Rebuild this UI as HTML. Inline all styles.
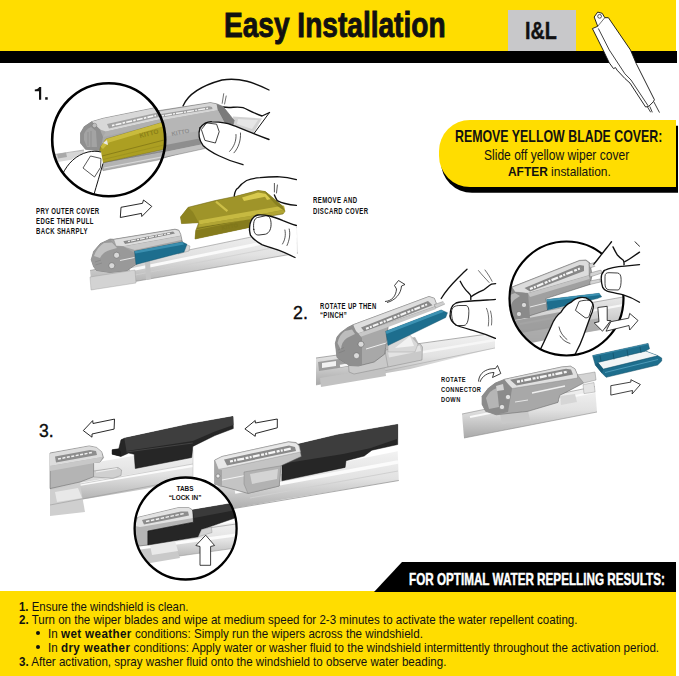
<!DOCTYPE html>
<html><head><meta charset="utf-8">
<style>
*{margin:0;padding:0;box-sizing:border-box}
html,body{width:679px;height:676px;overflow:hidden;background:#fff}
body{position:relative;font-family:"Liberation Sans",sans-serif;color:#111}
.a{position:absolute;white-space:nowrap;transform-origin:0 0;line-height:1}
.b{font-weight:bold}
#hdr{position:absolute;left:0;top:0;width:676px;height:51px;background:#FFDD00}
#hbar{position:absolute;left:0;top:51px;width:677px;height:12px;background:#000}
#il{position:absolute;left:508px;top:10px;width:68px;height:41px;background:#c8c8ca}
#call{position:absolute;left:439px;top:120px;width:237px;height:67px;background:#FFDD00;border-radius:31px 0 0 31px;box-shadow:2px 5.8px 0 #000}
#band{position:absolute;left:0;top:591px;width:676px;height:85px;background:#FFDD00}
svg{position:absolute;left:0;top:0}
</style></head><body>
<div id="hdr"></div>
<div id="hbar"></div>
<div id="il"></div>
<div id="call"></div>
<div id="band"></div>
<svg width="679" height="676" viewBox="0 0 679 676">
<!-- bg -->
<polygon points="402,562 676,562 676,592 374,592" fill="#000"/>

<!-- arm -->
<g stroke="#111" stroke-width="0.9" stroke-linejoin="round" fill="#fff">
  <path d="M592.4,28.6 L597.7,26.3 L594.2,17 L597.7,12.1 L602.2,13.3 L604.8,17.7 L608.4,17.7 L630.5,50 L636.2,63.5 L654.4,99.7 L653.3,101.8 L648.7,106.4 L645.6,107 L630,83.1 L624.9,78.5 L617.1,70.2 L615.5,67.6 L613.5,68.6 L609.3,62.9 L603.1,50 Z"/>
  <path d="M598.3,28.4 L609.3,50 L624.9,73.8 L631,80 L648.2,105.9" fill="none" stroke-width="0.8"/>
  <path d="M647.5,107 L650.7,112.3 M649.8,106.5 L652.3,112.3 M653.8,101.8 L659.5,112.6" fill="none" stroke-width="0.8"/>
  <circle cx="599.6" cy="16.3" r="1.9" stroke-width="0.7"/>
  <path d="M604.8,17.7 L597.7,26.3" fill="none" stroke-width="0.6"/>
</g>

<!-- s1top -->
<defs><clipPath id="c1"><circle cx="108.7" cy="139.7" r="56"/></clipPath>
<linearGradient id="railg" x1="0" y1="0" x2="0" y2="1"><stop offset="0" stop-color="#efefef"/><stop offset="1" stop-color="#c9c9c9"/></linearGradient></defs>
<!-- hand back (behind blade) -->
<g stroke="#111" stroke-width="1.35" fill="#fff" stroke-linejoin="round" stroke-linecap="round">
  <path d="M183,106 C188,94 200,86 222,80 C240,77 255,83 269,90 L269,113 L262,116 C250,112 246,109 243,107.7 C238,106 232,108 225,107 Z" stroke="none"/>
  <path d="M183,106 C188,94 200,86 222,80 C240,77 255,83 269,90" fill="none"/>
  <path d="M223.5,107 C230,108.5 237,106 243,107.7 C247,109 251,112 262,116 L269.5,112.5" fill="none"/>
  <path d="M223.7,93.7 L222.2,103.3 M226.2,96 L224.6,104" fill="none" stroke-width="0.6"/>
</g>
<!-- rail behind hand fingers -->
<polygon points="233,116.5 262,118.5 253,134 234,126" fill="#d2d2d2"/>
<polygon points="238,119 258,120 252,129 237,124" fill="#e6e6e6"/>
<path d="M269.5,112.5 L252.5,135.5 L269,139.5" fill="none" stroke="#111" stroke-width="1"/>
<!-- blade body outside circle -->
<g stroke-linejoin="round">
  <path d="M150,112 L210.4,102.6 L216.6,103.8 L223,106.5 L234.2,120.4 L233,125.4 L204,146 L160,159 L150,160 Z" fill="#aeaeae" stroke="#5e5e5e" stroke-width="0.5"/>
  <path d="M150,113 L210.4,103 L216.6,104.2 L217.9,110.3 L155,121.6 L150,122.5 Z" fill="#d6d6d6"/>
  <path d="M158,114.5 L209,106.3 L212,107 L212.5,109 L160,117.8 Z" fill="#9e9e9e"/>
  <path d="M162,115.8 L208,108.3" stroke="#f3f3f3" stroke-width="1.4" stroke-dasharray="2 1 7 1.2"/>
  <path d="M216.6,104 L223,106.5 L234.2,120.4 L233,125.4 L225.4,124.2 L217.9,110.3 Z" fill="#7b7b7b"/>
  <path d="M155,121.6 L217.9,110.3 L225.4,124.2 L200,131 L155,138 Z" fill="#b6b6b6"/>
  <path d="M150,148 L202,138 L203.5,144 L150,155 Z" fill="#8e8e8e"/>
  <path d="M150,155 L203.5,144 L205,148.5 L150,160.5 Z" fill="#c2c2c2"/>
  <path d="M150,160.5 L205,148.5" stroke="#777" stroke-width="0.5"/>
  <text x="172" y="136" font-family="Liberation Sans" font-weight="bold" font-size="6" fill="#8d8d8d" transform="rotate(-11 172 136)">KITTO</text>
</g>
<!-- thumb front -->
<g stroke="#111" stroke-width="1.35" fill="#fff" stroke-linejoin="round" stroke-linecap="round">
  <path d="M200,128 C204,123 208,121.5 212,121.8 C220,122 228,123 231,124.7 C238,127 246,131 269,139.5 L269,160 L243,164.7 C225,160 210,152 203,145.4 C199,140 198,133 200,128 Z" stroke="none"/>
  <path d="M200,128 C204,123 208,121.5 212,121.8 C220,122 228,123 231,124.7 C238,127 246,131 269,139.5" fill="none"/>
  <path d="M200,128 C198,134 199,140 203,145.4 C210,152 225,160 243,164.7" fill="none"/>
  <path d="M201.6,129.2 L206.6,122.9 L216.6,124.2 L219.2,131.7 L215.4,143 L205.3,140.5 Z" fill="none" stroke-width="0.8"/>
  <path d="M236,134.5 C236.5,140.5 234,147 229.6,151.4 M240.5,133 C241,140 238.5,148 234,152.8" fill="none" stroke-width="0.7"/>
</g>
<!-- circle content -->
<circle cx="108.7" cy="139.7" r="56.5" fill="#fff"/>
<g clip-path="url(#c1)">
  <polygon points="45,156 70,152.5 84,150 84,158 70,160 45,164" fill="#d6d6d6"/>
  <path d="M45,156 L84,150" stroke="#8e8e8e" stroke-width="0.6"/>
  <polygon points="57,154 66,152.5 67,157 58,158.5" fill="#a9a9a9"/>
  <path d="M100,163 L161,151.8 L170,150 L170,158 L161,159.5 L103,170.7 Z" fill="#b3b3b3" stroke="#777" stroke-width="0.4"/>
  <path d="M104,168 L170,155.5" stroke="#d9d9d9" stroke-width="1.2"/>
  <path d="M80.5,133 L84.3,126.6 L91.8,121.6 L103.1,118.3 L161,106.5 L170,105 L170,150 L100.6,163 L96.8,150.5 L85.5,149.3 L80.5,143 Z" fill="#a8a8a8" stroke="#5e5e5e" stroke-width="0.5" stroke-linejoin="round"/>
  <path d="M91.8,121.8 L103.1,118.6 L161,106.8 L170,105.3 L170,117 L161,119 L106,131.5 L100,129.5 Z" fill="#d8d8d8"/>
  <path d="M107,124 L158,112.5 L160,113.5 L160,116.8 L109,128.5 Z" fill="#a2a2a2"/>
  <path d="M112,125.6 L156,115.4" stroke="#f6f6f6" stroke-width="1.6" stroke-dasharray="2.5 1.2 6 1.2"/>
  <path d="M106,131.5 L170,117 L170,122 L103,137 Z" fill="#b0b0b0"/>
  <path d="M80.5,133 L84.3,126.6 L91.8,121.6 L100,129.5 L103,137 L100.6,150 L96.8,150.5 L85.5,149.3 L80.5,143 Z" fill="#8f8f8f"/>
  <path d="M84,140 L84,134 Q86,129 91,127 L96,131 L97,147 L87,147 Z" fill="#a3a3a3"/>
  <path d="M88,132 L88,146 M91,131 L91,147" stroke="#7d7d7d" stroke-width="0.5"/>
  <circle cx="94.5" cy="125.5" r="2.3" fill="#bdbdbd" stroke="#6c6c6c" stroke-width="0.4"/>
  <path d="M96.8,163 L100.6,146.8 L106,139 L161,122.8 L170,121 L170,147 L161,150 L100.6,163.2 Z" fill="#ac9f22" stroke="#6a6212" stroke-width="0.4" stroke-linejoin="round"/>
  <path d="M100.6,146.8 L106,139 L161,122.8 L170,121 L170,125 L161,127 L109,142.5 L103,149 Z" fill="#c9bb3d"/>
  <path d="M102,156 L166,139.5" stroke="#8a7f18" stroke-width="1"/>
  <path d="M103,159.5 L166,144.5" stroke="#9a8f1e" stroke-width="0.8"/>
  <text x="140" y="138" font-family="Liberation Sans" font-weight="bold" font-size="6.5" fill="#8a7f18" transform="rotate(-14 140 138)">KITTO</text>
  <path d="M103,143 L107,140 L108,145 Z" fill="#e8e8e8"/>
<g stroke="#111" stroke-width="1" fill="#fff" stroke-linejoin="round">
    <path d="M55,185 C62,168 72,156 85,152.5 C92,151 97,151 101,151.5 L103,163 C100,175 97,185 94,197 L55,200 Z" stroke="none"/>
    <path d="M62,175 C68,163 76,155 88,152 C93,151 97,151 101,152" fill="none"/>
    <path d="M103,163.5 C100,174 97,184 93.5,196" fill="none"/>
    <path d="M83,168 L90.5,156 L101,158.5 L100.5,167.5 L94.5,177 Z" fill="none" stroke-width="0.7"/>
  </g>
</g>
<circle cx="108.7" cy="139.7" r="56.5" fill="none" stroke="#000" stroke-width="2.6"/>

<!-- s1bot -->
<defs>
<linearGradient id="rail2" x1="0" y1="0" x2="0" y2="1"><stop offset="0" stop-color="#f4f4f4"/><stop offset="0.5" stop-color="#dedede"/><stop offset="1" stop-color="#bcbcbc"/></linearGradient>
</defs>
<!-- rail long -->
<path d="M90,270.5 L297,227.5 L298,253 L92,289 Z" fill="url(#rail3)"/>
<path d="M90,270.5 L297,227.5" stroke="#8e8e8e" stroke-width="0.6"/>
<path d="M92,289 L298,253" stroke="#8a8a8a" stroke-width="0.6"/>
<path d="M130,270 L297,236" stroke="#fafafa" stroke-width="3"/>
<path d="M130,276 L297,243" stroke="#cfcfcf" stroke-width="0.8"/>
<path d="M90,277 L135,270 L136,283 L91,290 Z" fill="#d3d3d3" stroke="#999" stroke-width="0.4"/>
<path d="M145,262 L150,261 L151,279 L146,280 Z" fill="#c4c4c4"/>
<!-- connector housing -->
<path d="M176,247 L186,244.5 L190,246 L189,251 L178,254 Z" fill="#d6d6d6" stroke="#888" stroke-width="0.4"/>
<path d="M93.6,266.7 L91.2,259.8 L93.6,251.4 L100.3,243.6 L110,239 L113.7,239.3 L175,229.2 L178.8,230.2 L180.7,234.5 L182.4,242 L136,264.4 L127.1,270.5 L110,272.4 L96.5,270.5 Z" fill="#a4a4a4" stroke="#5a5a5a" stroke-width="0.5" stroke-linejoin="round"/>
<path d="M113.7,239.5 L175,229.4 L178.8,230.4 L180.7,234.5 L180.7,236 L123.3,246.6 L116,246 Z" fill="#dedede" stroke="#7a7a7a" stroke-width="0.35"/>
<path d="M123.3,241.2 L173.1,231.6 L175,233.6 L125.1,244.1 Z" fill="#8a8a8a"/>
<path d="M128,241.5 L170,233.3" stroke="#f2f2f2" stroke-width="1.1" stroke-dasharray="2 1 5 1.2"/>
<path d="M123.3,246.6 L180.7,236 L181.5,240 L134.8,250 Z" fill="#c9c9c9"/>
<path d="M93.6,266.7 L91.2,259.8 L93.6,251.4 L100.3,243.6 L110,239.2 L116,246 L123.3,246.6 L134.8,253.3 L135.7,262.9 L127.1,270.5 L110,272.4 L96.5,270.5 Z" fill="#999"/>
<path d="M94,256 Q97,247 104,243 L112,242.5 L117,248 L110,250 Q103,252 100,258 Z" fill="#c2c2c2"/>
<path d="M95,262 L101,260 M95.5,265 L102,263" stroke="#7c7c7c" stroke-width="0.5"/>
<circle cx="116.6" cy="255.2" r="3" fill="#d8d8d8" stroke="#5e5e5e" stroke-width="0.5"/>
<circle cx="111.8" cy="265.7" r="3" fill="#d8d8d8" stroke="#5e5e5e" stroke-width="0.5"/>
<path d="M120,260.5 L134.5,257.5" stroke="#f0f0f0" stroke-width="0.9"/>
<!-- teal -->
<path d="M134.5,251.3 L182.4,242 L187,244.3 L184,252 L136,264.4 Z" fill="#1d6e8e" stroke="#134e66" stroke-width="0.4"/>
<path d="M134.5,251.3 L182.4,242 L184,244.5 L135.5,253.5 Z" fill="#3a8fb0"/>
<!-- olive cover -->
<path d="M180.5,217 L188.2,207.3 L215,200.6 L233.2,196.8 L258,190.1 L264.8,191.1 L283,206.4 L285,211.2 L283,214 L252,219 L249.5,227.4 L195,239 L195.8,230.3 L198.7,222.7 L181.5,223.6 Z" fill="#9f9429" stroke="#6a6214" stroke-width="0.5" stroke-linejoin="round"/>
<path d="M195,239 L195.8,230.3 L250,219 L249.5,227.4 Z" fill="#857b1c"/>
<path d="M197,228.5 L250,218.5" stroke="#6f6716" stroke-width="0.7"/>
<path d="M198.7,220.5 L252,211 L284,205.5 L285,209.5 L252,215.8 L199.5,224.5 Z" fill="#c6b941"/>
<path d="M198.7,224.5 L252,215.8 L285,209.8 L284,213 L252,219 L199,227 Z" fill="#b1a534"/>
<path d="M216,201.6 L227.4,211.2" stroke="#cdbf47" stroke-width="2.2"/>
<path d="M242,197.5 L258,192.5 L269.6,194.5 L271.5,198.7 L267,200 L265,196.8 L244,201 Z" fill="#d8ca4e"/>
<path d="M264.8,191.1 L283,206.4 L285,211.2 L276,205 L266,194 Z" fill="#888020"/>
<path d="M181.5,223.6 L180.5,217 L188.2,207.3 L193,212 L198.7,222.7 Z" fill="#8d8320"/>
<text x="222" y="230" font-family="Liberation Sans" font-weight="bold" font-size="5.5" fill="#7f7619" transform="rotate(-11 222 230)">KITTO</text>
<!-- hand -->
<g stroke="#111" stroke-width="1.35" fill="#fff" stroke-linejoin="round" stroke-linecap="round">
  <path d="M234.2,196 C235,191 236,189 238,188.2 C241,184 244,182 246.6,180.5 C251,178.5 255,178 260,177.7 C266,177 272,176.7 277.2,176.7 C285,177 291,178 296.4,179.6 L297,206 C292,205.5 289,204.5 284.9,203.5 C281,202.5 279,201.5 277.2,200.6 C276,198 275,196 274.4,194.9 C268,191.5 264,190.5 258,190.1 Z" stroke="none"/>
  <path d="M234.2,196 C235,191 236,189 238,188.2 C241,184 244,182 246.6,180.5 C251,178.5 255,178 260,177.7 C266,177 272,176.7 277.2,176.7 C285,177 291,178 296.4,179.6" fill="none"/>
  <path d="M274.4,194.9 C275,196.5 276,198.5 277.2,200.6 C279,201.5 281,202.5 284.9,203.5 C289,204.5 292,205 296.4,205.4" fill="none"/>
  <path d="M274.4,183.4 L274.4,192 M277.4,185 L276.5,193" fill="none" stroke-width="0.7"/>
  <path d="M249.5,230 C249.5,224 250.5,221 252.3,218.8 C254,216.5 256,215.3 258,215 C262,214.8 266,215.2 269.6,216 C274,217 279,219 283,220.7 C288,222.5 292,224 296.4,225.5 L297,259 C292,256 286,253 279.1,250.4 C273,248 267,246.5 261.9,244.7 C257,242 253,239 250.4,235.1 Z" stroke="none"/>
  <path d="M249.5,230 C249.5,224 250.5,221 252.3,218.8 C254,216.5 256,215.3 258,215 C262,214.8 266,215.2 269.6,216 C274,217 279,219 283,220.7 C288,222.5 292,224 296.4,225.5" fill="none"/>
  <path d="M249.5,230 C249.7,232 250,233.5 250.4,235.1 C253,239 257,242 261.9,244.7 C267,246.5 273,248 279.1,250.4 C286,253 291,255.5 295,257.5" fill="none"/>
  <path d="M253.8,229.5 C253,223 254,218.5 257.5,217.5 L265.5,215.8 C269,215.3 270.6,218 271,222.5 C271.5,228.5 269.5,233 265.5,234.2 L259,235 C255.5,235.3 254.2,233 253.8,229.5 Z" fill="none" stroke-width="0.85"/>
  <path d="M284.9,230 C286,235 285,240 282.5,244 M289.2,229 C290.5,234 289.5,240 287,245.5" fill="none" stroke-width="0.7"/>
</g>

<!-- s2 -->
<!-- step 2 main blade -->
<path d="M316,358 L410,345.6 L495,333 L495,348 L410,369 L316,385 Z" fill="url(#rail3)"/>
<path d="M316,358 L495,333" stroke="#8a8a8a" stroke-width="0.7"/>
<path d="M316,385 L495,348" stroke="#a8a8a8" stroke-width="0.6"/>
<path d="M318,362 L352,357 L352,366 L319,371 Z" fill="#9d9d9d"/>
<path d="M322,363 L336,361 L336,366 L322,368 Z" fill="#f2f2f2"/>
<path d="M340,366 L495,340" stroke="#f6f6f6" stroke-width="2.5"/>
<path d="M320,378 L385,367 L386,376 L321,387 Z" fill="#c2c2c2"/>
<path d="M386,343 L415,337 L420,346 L386,352 Z" fill="#b8b8b8"/>
<path d="M395,345 L410,336 L414,345 Z" fill="#eee"/>
<!-- saddle -->
<path d="M348,358 L386,350 L420,343.5 L422.5,347 L422,360 L388,367 L354,374 L349,372 Z" fill="#c9c9c9" stroke="#7d7d7d" stroke-width="0.45" stroke-linejoin="round"/>
<path d="M388,352 L420,345.5 L421,351 L389,357.5 Z" fill="#e3e3e3"/>
<path d="M385,351 L388,367" stroke="#8a8a8a" stroke-width="0.5"/>
<!-- housing -->
<path d="M335.3,343.3 L337,337 L340.6,332.7 L347.7,327.4 L353,324.8 L429,296.5 L434.3,298.3 L436,302.7 L436,306.2 L388.3,325.6 L384.8,354 L374.2,362 L358.3,366 L349.4,365.5 L337,357.5 Z" fill="#a8a8a8" stroke="#5a5a5a" stroke-width="0.5" stroke-linejoin="round"/>
<path d="M353,324.8 L429,296.5 L434.3,298.3 L436,302.7 L436,306.2 L358.3,333.6 L354,331 Z" fill="#dedede" stroke="#7a7a7a" stroke-width="0.35"/>
<path d="M361,327.4 L428,300.9 L432.5,305.3 L364.5,331.8 Z" fill="#888"/>
<path d="M366,328.8 L428,304" stroke="#f4f4f4" stroke-width="2" stroke-dasharray="3 1.2 2 1.2 6 1.5"/>
<path d="M358.3,333.6 L436,306.2 L436,309 L388.3,327 L360,337 Z" fill="#c8c8c8"/>
<path d="M335.3,343.3 L337,337 L340.6,332.7 L347.7,327.4 L353,324.8 L356,331 L358.3,333.6 L362,338 L362,365 L358.3,366 L349.4,365.5 L337,357.5 Z" fill="#8f8f8f"/>
<path d="M337.5,343 Q339,335 345,331 L352,329.5 L355,334 L347,338 Q341,342 341,350 Z" fill="#bdbdbd"/>
<path d="M338,350 L344,347.5 M338.5,353 L345,350.5" stroke="#767676" stroke-width="0.5"/>
<circle cx="361" cy="344.2" r="3" fill="#dadada" stroke="#5a5a5a" stroke-width="0.5"/>
<circle cx="356.5" cy="355.7" r="3" fill="#dadada" stroke="#5a5a5a" stroke-width="0.5"/>
<path d="M366,349 L386,343" stroke="#f0f0f0" stroke-width="1"/>
<path d="M388,339 L410,335 L418,344 L415,352 L388,352 Z" fill="#d8d8d8" stroke="#999" stroke-width="0.4"/>
<path d="M395,348 L410,336 L414,346 Z" fill="#f2f2f2"/>
<!-- teal -->
<path d="M385.7,331.3 L441.2,310 L447.5,312.7 L445.7,317.5 L388,345.5 Z" fill="#1d6e8e" stroke="#134e66" stroke-width="0.4"/>
<path d="M385.7,331.3 L441.2,310 L444,311.8 L386.5,334 Z" fill="#3c92b3"/>
<!-- prongs -->
<path d="M434,304.7 L443.9,301.2 L445,304 L436,308 Z" fill="#cfcfcf" stroke="#777" stroke-width="0.4"/>
<!-- hand -->
<g stroke="#111" stroke-width="1.35" fill="#fff" stroke-linejoin="round" stroke-linecap="round">
  <path d="M441.2,298.5 C445,292 451,285 458,278 C462,274 465,271 467,269.2 L495,268 L495,300 C485,300 478,300 472,301 C466,303 458,305 452,306 L447,307 Z" stroke="none"/>
  <path d="M441.2,298.5 C445,292 451,285 458,278 C462,274 465,271 467,269.2" fill="none"/>
  <path d="M460.2,281.3 C462,285 464,288 465.5,289.6 C468,292.5 470.5,294 470.8,296 L470.8,299.6 M471.5,296.5 C474,294.5 478,292.5 483.2,290.2 C486.5,288 489,285.5 491.5,284.2 L495.6,283.6" fill="none"/>
  <path d="M478.5,270.6 C482,275 486,279 489.1,282.5 M485,270 C488,274 490.5,278 492.1,281.3" fill="none" stroke-width="0.6"/>
  <path d="M450.1,316 C450,310 452,305 456,303 C462,301 472,301 480,300.5 C487,300 492,299.8 495.4,299.4 L495.4,338.4 C488,336 482,333.5 476,331.3 C468,329 460,327 456,325 C452,322 450,319 450.1,316 Z" stroke="none"/>
  <path d="M450.1,316 C450,310 452,305 456,303 C462,301 472,301 480,300.5 C487,300 492,299.8 495.4,299.4" fill="none"/>
  <path d="M450.1,316 C450,319 452,322 456,325 C460,327 468,329 476,331.3 C484,333.5 490,336 495.4,338.4" fill="none"/>
  <path d="M451.5,312 C451.5,307 455,305.5 460,305.5 L466,305.5 C468.5,306 469,309 468.8,313 C468.6,318 468,325 464,325.5 L457,325.5 C453,325 451.5,318 451.5,312 Z" fill="none" stroke-width="0.8"/>
  <path d="M486.5,308.3 C489,314 489,320 488.3,326 M490.5,311 C492,316 492,321 491.5,325" fill="none" stroke-width="0.6"/>
</g>
<!-- curved arrow rotate up -->
<path d="M385,301.5 C392,301 396,296 396.5,289 L394.5,285.5 L398.5,280.5 L405,284.5 L401.5,286 C401,294 395,300.5 387,302.5" fill="#fff" stroke="#111" stroke-width="0.8" stroke-linejoin="round"/>

<!-- s2c -->
<defs><clipPath id="c2"><circle cx="566.5" cy="298.5" r="57"/></clipPath></defs>
<circle cx="566.5" cy="298.5" r="57" fill="#fff"/>
<g clip-path="url(#c2)">
  <defs><linearGradient id="rail4" x1="0" y1="0" x2="0" y2="1"><stop offset="0" stop-color="#ececec"/><stop offset="0.35" stop-color="#d6d6d6"/><stop offset="1" stop-color="#9c9c9c"/></linearGradient></defs>
  <!-- rail -->
  <path d="M505,318 L640,294 L640,322 L505,348 Z" fill="url(#rail4)"/>
  <path d="M505,318 L640,294" stroke="#8a8a8a" stroke-width="0.6"/>
  <path d="M520,324 L640,302" stroke="#f7f7f7" stroke-width="2.2"/>
  <path d="M505,334 L600,318 L601,330 L505,346 Z" fill="#a9a9a9" opacity="0.8"/>
  <!-- housing -->
  <path d="M505,292 L512,287 L579.6,260.4 L586,260 L590,263 L592,275 L590.2,284.4 L545.8,298.6 L547.6,310.1 L522.8,318 L505,321 Z" fill="#a0a0a0" stroke="#555" stroke-width="0.5" stroke-linejoin="round"/>
  <path d="M512,287.3 L579.6,260.7 L586,260.4 L589,263 L589,275.5 L528,293.3 L515,292 Z" fill="#dcdcdc" stroke="#777" stroke-width="0.35"/>
  <path d="M524.5,288 L579.6,265 L584,265.7 L584,271 L530,291.5 Z" fill="#878787"/>
  <path d="M530,289 L581,268" stroke="#f4f4f4" stroke-width="2.2" stroke-dasharray="3 1.2 2 1.2 7 1.5"/>
  <path d="M528,293.3 L589,275.5 L589.5,279 L530,297 Z" fill="#c4c4c4"/>
  <path d="M505,293 L512,287.3 L515,292 L528,293.3 L530,318 L522.8,318 L505,321 Z" fill="#8a8a8a"/>
  <path d="M507,300 Q509,294 515,293 L520,296 L514,300 Q510,304 510,312 L507,313 Z" fill="#b8b8b8"/>
  <circle cx="524" cy="305" r="2.6" fill="#dadada" stroke="#5a5a5a" stroke-width="0.5"/>
  <circle cx="519" cy="314" r="2.6" fill="#dadada" stroke="#5a5a5a" stroke-width="0.5"/>
  <path d="M530,307 L546,303" stroke="#eee" stroke-width="0.9"/>
  <path d="M589,264 L600,261 L601,264 L590,268 Z M590,273 L601,270 L602,273 L590,277 Z M590,281 L600,279 L600.5,282 L590,284.5 Z" fill="#d4d4d4" stroke="#6a6a6a" stroke-width="0.4"/>
  <!-- teal -->
  <path d="M546.7,299.5 L599.1,293.3 L601.7,296.8 L597.3,298.6 L547.6,310.1 Z" fill="#1d6e8e" stroke="#134e66" stroke-width="0.4"/>
  <path d="M546.7,299.5 L599.1,293.3 L600,295 L547,301.5 Z" fill="#3c92b3"/>
  <!-- thumb -->
  <path d="M513,321 L560,312 L562,326 L515,334 Z" fill="#9a9a9a" opacity="0.9"/>
  <g stroke="#111" stroke-width="1.35" fill="#fff" stroke-linejoin="round" stroke-linecap="round">
    <path d="M530,362 L537,356 C541,348 546,338 551.2,326.2 C554,319 557,315 561,312.2 C564,307 567,304 570.8,302.4 C574,299.5 577,297.8 580.6,297.5 C584,297.2 587,298 589,299.6 C592,301.5 593.8,304.5 593.2,308 C592.8,311 591.8,313.5 590.4,316.4 C588,323 585.5,330 583.4,336 C581,343 578,349 575,354 L572,362 Z" stroke="none"/>
    <path d="M537.5,355.5 C541,348 546,338 551.2,326.2 C554,319 557,315 561,312.2 C564,307 567,304 570.8,302.4 C574,299.5 577,297.8 580.6,297.5 C584,297.2 587,298 589,299.6 C592,301.5 593.8,304.5 593.2,308 C592.8,311 591.8,313.5 590.4,316.4 C588,323 585.5,330 583.4,336 C581,343 578,349 575,354.5" fill="none"/>
    <path d="M575.6,310 L579.1,301.5 C582,300.5 586,300 589,300.3 C591.5,301 592.8,303 592.5,305.2 L589,316.5 C588,317.8 586.5,318 585.5,317.8 Z" fill="none" stroke-width="0.8"/>
    <path d="M559,327 C560,332 563,336.5 567,339.5 M560,336 C562,339.5 565.5,342 570,343.5" fill="none" stroke-width="0.7"/>
    <path d="M507,337 C514,341 521,345 527,349" fill="none" stroke-width="0.9"/>
  </g>
</g>
</g>
<circle cx="566.5" cy="298.5" r="57" fill="none" stroke="#000" stroke-width="2.2"/>
<!-- hand upper right over circle -->
<g stroke="#111" stroke-width="1.35" fill="#fff" stroke-linejoin="round" stroke-linecap="round">
  <path d="M593.9,264.5 L611.5,241.5 L641,241 L641,303 C634,299 628,296.5 623.3,294.8 L607.1,291.1 C604,289.5 602.7,287.4 602.7,287.4 C601.5,284 601,281 601.2,278.6 C601.5,275 602.5,272.5 604.2,270.5 L597,268.5 Z" stroke="none"/>
  <path d="M593.9,264.2 C598,259 603,252.5 607,247.5 C609,245 610.5,243 611.5,241.8" fill="none"/>
  <path d="M613,246.9 C614.5,250 616,253 617.4,255 C619.5,257.5 621.5,259 623.3,260.2 C624,261.5 624.2,263 624,265" fill="none"/>
  <path d="M624.8,261.7 C629,259.5 634,256 639.5,252.1" fill="none"/>
  <path d="M635.1,241.8 C636.5,243.5 638,245 639.5,246.2" fill="none" stroke-width="0.9"/>
  <path d="M604.2,270.5 C609,268 616,266.5 624.8,266.1 C630,265.5 635,265 639.5,264.6" fill="none"/>
  <path d="M604.2,270.5 C602,273 601,276 601.2,278.6 C601.3,282 601.8,285 602.7,287.4 C603.8,289.5 605.2,290.6 607.1,291.1 C612,292.5 618,293.5 623.3,294.8 C629,296.5 634.5,299 639.5,302.2" fill="none"/>
  <path d="M605,276 C605,273.5 606.5,272.7 609,272.7 L617.5,273 C620,273.3 621.1,275.5 621.1,279.5 C621.1,284 620.8,288 618.5,290 L609,289.8 C606,289.5 605,287 605,284 Z" fill="none" stroke-width="0.8"/>
</g>
<!-- down arrow & right arrow in circle -->
<path d="M597.8,307.5 L607.2,306.3 L607.2,320.5 L610.8,320.5 L602.5,331.2 L594.2,322.9 L599,321.7 Z" fill="#fff" stroke="#111" stroke-width="0.8" stroke-linejoin="round"/>
<path d="M606,331.2 L610.8,321.7 L628.6,318.2 L629.7,313.4 L638,320.5 L629.7,330 L629,325.5 Z" fill="#fff" stroke="#111" stroke-width="0.8" stroke-linejoin="round"/>
<!-- separate teal piece -->
<g stroke-linejoin="round">
  <path d="M592.6,355.6 L648.1,343.4 L649.5,348.8 L645.4,351 L657.6,355.6 L661.7,358 L661.7,361 L657.6,365 L606.1,377.3 L602,373.2 L595.3,365 Z" fill="#1e6e8d" stroke="#0f4a62" stroke-width="0.5"/>
  <path d="M598,362.4 L645.4,351.2 L657.6,355.8 L603.4,369.1 Z" fill="#f2f5f6"/>
  <path d="M598,362.4 L645.4,351.2" stroke="#0f4a62" stroke-width="0.5"/>
  <path d="M603.4,369.1 L657.6,355.8" stroke="#0f4a62" stroke-width="0.5"/>
  <path d="M595.3,365 L598,362.4 L603.4,369.1 L602,373.2 Z" fill="#175c78"/>
  <path d="M605,372.5 L658,359.5" stroke="#4d9ab8" stroke-width="1"/>
  <path d="M593,356 L648,344" stroke="#3f8fae" stroke-width="0.8"/>
  <path d="M600,355.5 L601,361 M613,352.8 L614,359.5 M627,349.8 L628,356.5 M640,346.8 L641,353" stroke="#0f4a62" stroke-width="0.6"/>
</g>
<path d="M610.8,385.7 L630.9,382.1 L630.9,379.7 L640.4,384.5 L632.1,394 L632.5,390.5 L610.8,395.1 Z" fill="#fff" stroke="#111" stroke-width="0.8" stroke-linejoin="round"/>

<!-- s2b -->
<defs>
<linearGradient id="rail3" x1="0" y1="0" x2="0" y2="1"><stop offset="0" stop-color="#f2f2f2"/><stop offset="0.45" stop-color="#e2e2e2"/><stop offset="1" stop-color="#a9a9a9"/></linearGradient>
</defs>
<path d="M462,414 L595,386.5 L597,412 L464,438 Z" fill="url(#rail3)"/>
<path d="M462,414 L595,386.5" stroke="#8c8c8c" stroke-width="0.6"/>
<path d="M464,438 L597,412" stroke="#8c8c8c" stroke-width="0.6"/>
<path d="M470,417 L595,392" stroke="#fafafa" stroke-width="2"/>
<path d="M500,414 L528,411 L530,420 L502,424 Z" fill="#c9c9c9"/>
<path d="M560,396 L575,394 L577,402 L561,405 Z" fill="#d6d6d6"/>
<!-- housing -->
<path d="M482,404.2 L482,396.2 L488.3,388.3 L495.3,383 L504.2,379.4 L561.6,367 L570.4,366.2 L574.9,368.8 L577.5,375 L582.8,375.9 L583.7,383 L568.7,390.9 L559.8,395.3 L558,402.4 L528,411.3 L496.2,414.8 L485.6,411.3 Z" fill="#a8a8a8" stroke="#5e5e5e" stroke-width="0.5" stroke-linejoin="round"/>
<path d="M504.2,379.4 L561.6,367 L570.4,366.2 L574.9,368.8 L577.5,375 L577.5,378 L512.1,388.5 L507,385 Z" fill="#e0e0e0" stroke="#777" stroke-width="0.35"/>
<path d="M510,379.8 L566,368.8 L571,369.5 L573,374.5 L516.5,385.6 Z" fill="#878787"/>
<path d="M517,381.8 L568,371.6" stroke="#f4f4f4" stroke-width="2.4" stroke-dasharray="3 1.2 2 1.2 7 1.5"/>
<path d="M482,404.2 L482,396.2 L488.3,388.3 L495.3,383 L504.2,379.4 L512.1,388.3 L508,412 L496.2,414.8 L485.6,411.3 Z" fill="#8b8b8b"/>
<path d="M486,398 Q490,390 497,388 L499,407 L489,409 Z" fill="#b5b5b5"/>
<path d="M496,386 L503,384 L504,390 L497,391 Z" fill="#d2d2d2"/>
<circle cx="508" cy="397" r="2.6" fill="#e2e2e2" stroke="#666" stroke-width="0.5"/>
<circle cx="502" cy="407" r="2.6" fill="#e2e2e2" stroke="#666" stroke-width="0.5"/>
<path d="M532,393 L565,386" stroke="#efefef" stroke-width="1.4"/>
<path d="M515,402 L528,400" stroke="#e6e6e6" stroke-width="1"/>
<path d="M577.5,375 L595,372 L596,380 L583.7,383 Z" fill="#d4d4d4" stroke="#7a7a7a" stroke-width="0.4"/>
<path d="M583,384.7 L594,382.5 L595,392 L584,393.6 Z" fill="#e4e4e4" stroke="#8a8a8a" stroke-width="0.4"/>
<!-- curved arrow -->
<path d="M478.5,381.5 C479,375 483,370.5 490,369 L495.5,368.5 L497.5,365.5 L500.8,373.5 L492.5,377.5 L494,372.5 C488,372.5 482,376 480,382" fill="#fff" stroke="#111" stroke-width="0.8" stroke-linejoin="round"/>

<!-- s3 -->
<!-- step 3 left blade -->
<path d="M50,470 L145,454 L193,449.5 L193,478 L145,489 L50,505 Z" fill="url(#rail3)"/>
<path d="M80.3,484.2 L193,465.5" stroke="#fbfbfb" stroke-width="3"/>
<path d="M50,490 L80,484 L85,512 L50,516 Z" fill="#cfcfcf"/>
<path d="M55,492 L78,488 L82,498 L57,502 Z" fill="#e8e8e8"/>
<path d="M50,505 L193,478" stroke="#9a9a9a" stroke-width="0.6"/>
<path d="M80,484 L193,464" stroke="#a5a5a5" stroke-width="0.5"/>
<path d="M193,449.5 L193,478" stroke="#bbb" stroke-width="0.5"/>
<!-- housing -->
<path d="M50,453 L89.2,445.9 L96.5,447.4 L101.7,451.8 L103.5,457.7 L100,462 L93.6,462.5 L93.6,476.8 L80,482 L50,488.6 Z" fill="#b4b4b4" stroke="#5e5e5e" stroke-width="0.5" stroke-linejoin="round"/>
<path d="M50,453.5 L89.2,446.3 L96.5,447.8 L101.5,452 L102.5,457 L50,466 Z" fill="#dcdcdc"/>
<path d="M55,456.5 L90,450 L96,451 L97,455 L56,462.5 Z" fill="#8d8d8d"/>
<path d="M58,459 L92,452.5" stroke="#f0f0f0" stroke-width="1.5" stroke-dasharray="3 1.5"/>
<path d="M50,466 L102.5,457 L100,462 L50,471 Z" fill="#c8c8c8"/>
<path d="M93.6,471 L118,467.5 L121.6,470 L121,475.5 L113,478.3 L93.6,477 Z" fill="#d0d0d0" stroke="#7a7a7a" stroke-width="0.4"/>
<path d="M96,472 L117,468.5" stroke="#efefef" stroke-width="1.2"/>
<!-- black cover -->
<path d="M112.1,449.8 L118.8,448.7 L121,439.8 L124.3,438.3 L188.4,424.4 L233,416.5 L233.3,428.5 L214.9,435.5 L192.8,446.4 L191.7,457.5 L135.3,468.5 L134.2,454.2 L128.7,453.1 L121,456.4 L112.1,454.2 Z" fill="#262626" stroke="#111" stroke-width="0.5" stroke-linejoin="round"/>
<path d="M124.3,438.3 L188.4,424.4 L233,416.5 L233.4,425 L214.9,431.5 L192.8,441 L126.5,451 Z" fill="#3e3e3e"/>
<path d="M126.5,452 L192.8,443" stroke="#555" stroke-width="0.6"/>
<path d="M112.1,449.8 L118.8,448.7 L121,452 L121,456.4 L112.1,454.2 Z" fill="#1c1c1c"/>
<!-- step 3 right: rail -->
<path d="M214.7,487 L345,461.7 L397.7,451.2 L398.8,480.5 L280,500 L214.7,511.8 Z" fill="url(#rail3)"/>
<path d="M235,492 L398,462" stroke="#fbfbfb" stroke-width="3.5"/>
<path d="M250,498 L398,471" stroke="#d0d0d0" stroke-width="1"/>
<path d="M214.7,511.8 L398.8,480.5" stroke="#8a8a8a" stroke-width="0.7"/>
<!-- black blade right -->
<path d="M282,463 L284,446 L297.2,444.5 L337.4,434.9 L397.7,424.4 L397.7,444.5 L371.9,450.2 L364.2,456 L346,460.7 L345.1,467.4 L335.5,469.4 L281.9,480.8 Z" fill="#262626" stroke="#111" stroke-width="0.5" stroke-linejoin="round"/>
<path d="M284,446 L297.2,444.5 L337.4,434.9 L397.7,424.4 L397.7,438.7 L370,448.3 L343.2,454 L283.8,463.6 Z" fill="#3d3d3d"/>
<!-- silver connector -->
<path d="M214.7,460.2 L222,456.5 L288.4,441.8 L296,442.5 L299.4,445.5 L301.3,456.5 L281,465.8 L279.2,486 L247.9,493.4 L214.7,484.2 Z" fill="#c4c4c4" stroke="#5e5e5e" stroke-width="0.5" stroke-linejoin="round"/>
<path d="M214.7,460.2 L222,456.5 L288.4,442 L296,443 L299,446 L300.5,452 L226,468 L218.4,469.4 Z" fill="#e8e8e8" stroke="#7a7a7a" stroke-width="0.35"/>
<path d="M224,459.5 L289,445.5 L295,447 L296,451 L227,465.5 Z" fill="#8a8a8a"/>
<path d="M230,461.5 L292,448.3" stroke="#f6f6f6" stroke-width="2.3" stroke-dasharray="3 1.2 2 1.2 7 1.5"/>
<path d="M214.7,460.2 L218.4,469.4 L222,470 L222,487 L214.7,484.2 Z" fill="#a6a6a6"/>
<circle cx="218" cy="476" r="2" fill="#ececec" stroke="#666" stroke-width="0.5"/>
<path d="M222,480 L279,469" stroke="#f4f4f4" stroke-width="1"/>
<path d="M244,472 L281,465.8 L279.2,486 L247.9,493.4 L244,484 Z" fill="#b2b2b2" stroke="#7a7a7a" stroke-width="0.4"/>
<path d="M250,474 L278,469 L277,479 L252,484 Z" fill="#d4d4d4"/>
<!-- arrows -->
<path d="M83.3,430.6 L92.7,420.6 L93,423.5 L114.5,419.1 L114.1,429.1 L92,434 L92,437.2 Z" fill="#fff" stroke="#111" stroke-width="0.9" stroke-linejoin="round"/>
<path d="M244.9,428.9 L255.2,420.5 L255.4,423 L277.3,419 L277.3,427.8 L255.5,433.5 L255.2,436.3 Z" fill="#fff" stroke="#111" stroke-width="0.9" stroke-linejoin="round"/>

<!-- s3c -->
<defs><clipPath id="c3"><circle cx="185.6" cy="528.5" r="51"/></clipPath></defs>
<circle cx="185.6" cy="528.5" r="51" fill="#fff"/>
<g clip-path="url(#c3)">
  <path d="M130,537 L236,522 L236,548 L130,563 Z" fill="url(#rail3)"/>
  <path d="M136,538.5 L236,524" stroke="#8e8e8e" stroke-width="0.6"/>
  <path d="M140,548 L236,535" stroke="#fbfbfb" stroke-width="3"/>
  <path d="M130,563 L236,548" stroke="#9c9c9c" stroke-width="0.6"/>
  <path d="M130,552 L175,545 L180,558 L132,566 Z" fill="#c9c9c9"/>
  <path d="M150,545 L175,541 L178,551 L152,555 Z" fill="#e9e9e9"/>
  <!-- connector -->
  <path d="M130,523 L138.1,517.3 L178.8,507.5 L188.6,507.5 L192.7,510 L193.5,518.1 L193.5,522.2 L147.9,531.1 L147.9,545 L138.1,546 L130,548 Z" fill="#b5b5b5" stroke="#5e5e5e" stroke-width="0.5" stroke-linejoin="round"/>
  <path d="M138.1,517.5 L178.8,507.8 L188.6,507.8 L192.5,510.5 L193.3,518 L140,527 L135,526 Z" fill="#e2e2e2"/>
  <path d="M142,520 L181,511.5 L188,511.5 L189,515.5 L144,524.5 Z" fill="#8d8d8d"/>
  <path d="M146,521.5 L185,513.3" stroke="#f3f3f3" stroke-width="1.4" stroke-dasharray="3.5 1.5"/>
  <!-- black -->
  <path d="M147.9,531.1 L193.5,522.2 L192.7,510 L235.8,502.7 L237,517.3 L201.6,529.5 L198.3,536.8 L147.9,545 Z" fill="#262626" stroke="#111" stroke-width="0.5" stroke-linejoin="round"/>
  <path d="M192.7,510 L235.8,502.7 L236,510 L194,518 Z" fill="#3a3a3a"/>
  <path d="M201.6,529.5 L211.4,527 L212,532.5 L204,535 L198.3,536.8 Z" fill="#d3d3d3" stroke="#888" stroke-width="0.4"/>
</g>
<circle cx="185.6" cy="528.5" r="51" fill="none" stroke="#000" stroke-width="2.3"/>
<path d="M200,565.3 L200,546.5 L195.9,545.5 L205.7,535.2 L214.6,545.5 L210.6,546.5 L210.6,565.3 Z" fill="#fff" stroke="#111" stroke-width="0.8" stroke-linejoin="round"/>

<!-- fg -->
<path d="M121,207.3 L142.5,203.3 L143.5,200 L151.8,206.4 L141.8,216.5 L141.5,213.4 L120.3,217.5 Z" fill="#fff" stroke="#111" stroke-width="0.9" stroke-linejoin="round"/>
<path d="M39,99.7 L39,91.2 L34.8,91.2 L34.8,89.6 C37,89.4 38.6,88.4 39.2,87.1 L41.2,87.1 L41.2,99.7 Z" fill="#111"/>
<rect x="45.2" y="97.2" width="2.5" height="2.5" fill="#111"/>

</svg>

<div class="a b" id="t_title" style="left:223.8px;top:8.2px;font-size:34.6px;transform:scaleX(0.812);-webkit-text-stroke:0.9px #111">Easy Installation</div>
<div class="a b" id="t_il" style="left:524.5px;top:19px;font-size:24.7px;transform:scaleX(0.80);-webkit-text-stroke:0.4px #111">I&amp;L</div>

<div class="a b" id="t_c1" style="left:455px;top:127.5px;font-size:16.3px;transform:scaleX(0.76)">REMOVE YELLOW BLADE COVER:</div>
<div class="a" id="t_c2" style="left:484px;top:147.5px;font-size:14.2px;transform:scaleX(0.85)">Slide off yellow wiper cover</div>
<div class="a" id="t_c3" style="left:508px;top:164.8px;font-size:13.2px;transform:scaleX(0.905)"><b>AFTER</b> installation.</div>

<div class="a" id="t_2" style="left:293px;top:305.4px;font-size:17.8px;-webkit-text-stroke:0.35px #000">2.</div>
<div class="a" id="t_3" style="left:39px;top:422.8px;font-size:17.6px;-webkit-text-stroke:0.35px #000">3.</div>

<div class="a b" id="t_pry" style="left:36px;top:206.3px;font-size:8.6px;line-height:10px;letter-spacing:0.55px;transform:scaleX(0.70)">PRY OUTER COVER<br>EDGE THEN PULL<br>BACK SHARPLY</div>
<div class="a b" id="t_rem" style="left:312.5px;top:195.3px;font-size:8.6px;line-height:10.2px;letter-spacing:0.55px;transform:scaleX(0.70)">REMOVE AND<br>DISCARD COVER</div>
<div class="a b" id="t_rot" style="left:320px;top:301.5px;font-size:8.5px;line-height:9.2px;letter-spacing:0.55px;transform:scaleX(0.70)">ROTATE UP THEN<br>&ldquo;PINCH&rdquo;</div>
<div class="a b" id="t_rcd" style="left:440.5px;top:375.2px;font-size:7.6px;line-height:10px;letter-spacing:0.55px;transform:scaleX(0.75)">ROTATE<br>CONNECTOR<br>DOWN</div>
<div class="a b" id="t_tabs" style="left:160px;top:483.5px;width:50px;text-align:center;font-size:8px;line-height:9.6px;transform:scaleX(0.8);transform-origin:25px 0">TABS<br>&ldquo;LOCK IN&rdquo;</div>

<div class="a b" id="t_opt" style="left:409.3px;top:571px;font-size:16.2px;color:#fff;transform:scaleX(0.722);-webkit-text-stroke:0.45px #fff">FOR OPTIMAL WATER REPELLING RESULTS:</div>

<div class="a" id="t_l1" style="left:19px;top:600.5px;font-size:12.2px;transform:scaleX(0.937)"><b>1.</b> Ensure the windshield is clean.</div>
<div class="a" id="t_l2" style="left:19px;top:614.3px;font-size:12.2px;transform:scaleX(0.9475)"><b>2.</b> Turn on the wiper blades and wipe at medium speed for 2-3 minutes to activate the water repellent coating.</div>
<div class="a" id="t_b1" style="left:35.9px;top:631px;width:4.3px;height:4.3px;border-radius:50%;background:#111"></div>
<div class="a" id="t_l3" style="left:48.3px;top:628.3px;font-size:12.2px;transform:scaleX(0.955)">In <b style="letter-spacing:0.4px">wet weather</b> conditions: Simply run the wipers across the windshield.</div>
<div class="a" id="t_b2" style="left:35.9px;top:644.8px;width:4.3px;height:4.3px;border-radius:50%;background:#111"></div>
<div class="a" id="t_l4" style="left:48.3px;top:642px;font-size:12.2px;transform:scaleX(0.953)">In <b style="letter-spacing:0.4px">dry weather</b> conditions: Apply water or washer fluid to the windshield intermittently throughout the activation period.</div>
<div class="a" id="t_l5" style="left:19px;top:655.7px;font-size:12.2px;transform:scaleX(0.950)"><b>3.</b> After activation, spray washer fluid onto the windshield to observe water beading.</div>
</body></html>
